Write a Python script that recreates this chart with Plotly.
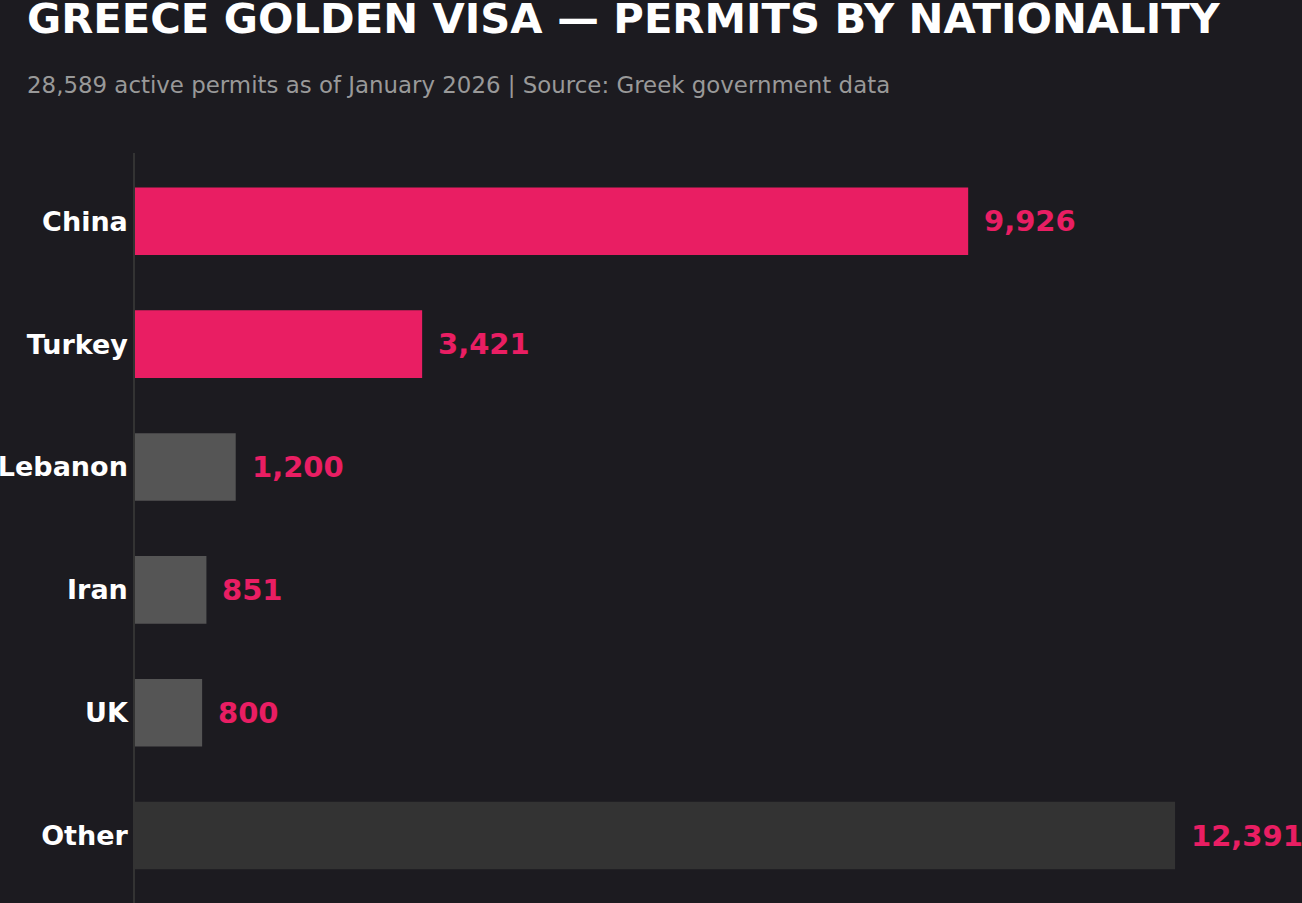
import plotly.graph_objects as go

countries = ["China", "Turkey", "Lebanon", "Iran", "UK", "Other"]
permits = [9926, 3421, 1200, 851, 800, 12391]
bar_colors = ["#e91e63", "#e91e63", "#555555", "#555555", "#555555", "#333333"]
labels = [f"{v:,}" for v in permits]

BG = "#1c1b20"
PINK = "#e91e63"
FONT = "DejaVu Sans"

fig = go.Figure()
fig.add_trace(go.Bar(
    y=countries, x=permits, orientation="h",
    marker=dict(color=bar_colors, line=dict(width=0)),
    width=0.55, hoverinfo="skip",
))

for c, v, t in zip(countries, permits, labels):
    fig.add_annotation(
        x=v, y=c, xref="x", yref="y", text=f"<b>{t}</b>",
        showarrow=False, xanchor="left", yanchor="middle", xshift=14,
        font=dict(family=FONT, size=29, color=PINK),
    )

fig.add_annotation(
    xref="paper", yref="paper", x=-135/1167, y=(903-18)/750,
    xanchor="left", yanchor="middle", xshift=25,
    text="<b>GREECE GOLDEN VISA — PERMITS BY NATIONALITY</b>",
    showarrow=False, font=dict(family=FONT, size=41.7, color="#ffffff"),
)
fig.add_annotation(
    xref="paper", yref="paper", x=-135/1167, y=(903-85)/750,
    xanchor="left", yanchor="middle", xshift=25,
    text="28,589 active permits as of January 2026 | Source: Greek government data",
    showarrow=False, font=dict(family=FONT, size=22.9, color="#999999"),
)

fig.update_layout(
    width=1302, height=903,
    margin=dict(l=135, r=0, t=153, b=0, autoexpand=False),
    paper_bgcolor=BG, plot_bgcolor=BG,
    showlegend=False,
    xaxis=dict(range=[0, 13903], visible=False, showgrid=False, zeroline=False,
               automargin=False),
    yaxis=dict(
        range=[5.549, -0.556], showgrid=False, zeroline=False, automargin=False,
        showline=True, linecolor="#333333", linewidth=1.5,
        ticks="", ticklabelstandoff=0,
        tickfont=dict(family=FONT, size=27, color="#ffffff", weight="bold"),
        categoryorder="array", categoryarray=countries,
    ),
)

fig.write_html("out.html")
